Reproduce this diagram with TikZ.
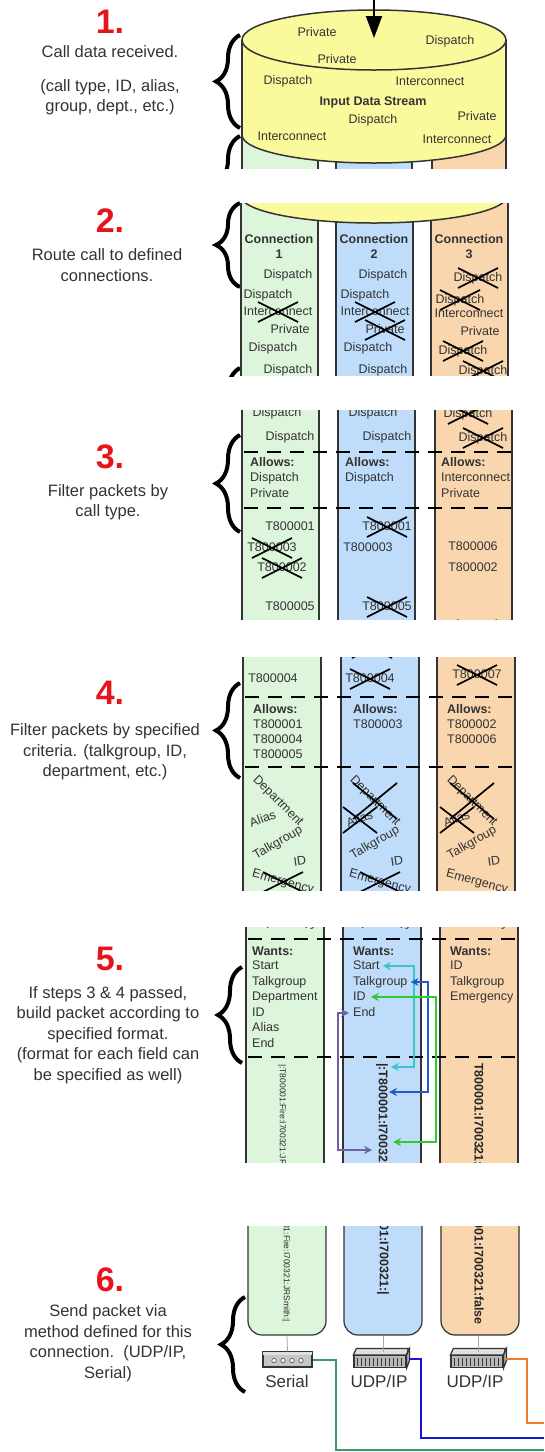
\documentclass[tikz,border=0pt]{standalone}
\usepackage{fontspec}
\setmainfont{Liberation Sans}
\usetikzlibrary{arrows.meta,decorations.pathreplacing}

\definecolor{cylyellow}{HTML}{FAFA9C}
\definecolor{colgreen}{HTML}{DDF5DA}
\definecolor{colblue}{HTML}{BFDDFA}
\definecolor{colorange}{HTML}{FAD6AE}
\definecolor{stepred}{HTML}{E8141C}
\definecolor{inkgray}{HTML}{333333}
\definecolor{pcyan}{HTML}{3CC4CC}
\definecolor{pblue}{HTML}{2458CC}
\definecolor{pgreen}{HTML}{2ECC2E}
\definecolor{ppurple}{HTML}{7060A8}
\definecolor{wgreen}{HTML}{3A9A6E}
\definecolor{wblue}{HTML}{1414D8}
\definecolor{worange}{HTML}{EE7A22}

\tikzset{
  txt/.style={font=\fontsize{12.5}{15}\selectfont, inner sep=0pt,
    text height=9pt, text depth=2.5pt, text=inkgray},
  bold/.style={txt, font=\fontsize{12.5}{15}\selectfont\bfseries},
  xline/.style={draw=black, line width=1.7pt},
  xed/.style n args={2}{append after command={
      ([xshift=-#1pt,yshift=-#2pt]\tikzlastnode.center) edge[xline] ([xshift=#1pt,yshift=#2pt]\tikzlastnode.center)
      ([xshift=-#1pt,yshift=#2pt]\tikzlastnode.center) edge[xline] ([xshift=#1pt,yshift=-#2pt]\tikzlastnode.center)}},
  xx/.style={xed={20}{10}},
  stepnum/.style={font=\fontsize{34}{34}\selectfont\bfseries, text=stepred, inner sep=0pt},
  stepdesc/.style={font=\fontsize{16.5}{20.5}\selectfont, text=inkgray, align=center, inner sep=0pt},
  brc/.style={decorate, decoration={brace, amplitude=24pt}, line width=4pt},
  colborder/.style={draw=inkgray, line width=1.2pt},
  dashsep/.style={line width=2.2pt, dash pattern=on 14pt off 9pt},
  pk/.style={font=\fontsize{12.5}{15}\selectfont\bfseries, inner sep=0pt, rotate=-90, text=black!85},
  pksmall/.style={font=\fontsize{8.5}{10}\selectfont, inner sep=0pt, rotate=-90, text=black!85},
  link/.style={line width=2.2pt, {Stealth[length=8pt,width=8pt]}-{Stealth[length=8pt,width=8pt]}},
  wire/.style={line width=2pt},
  devlbl/.style={font=\fontsize{17}{20}\selectfont, text=inkgray, inner sep=0pt},
  serialbox/.style={draw=inkgray, line width=1.2pt, fill=gray!45, minimum width=49pt, minimum height=15pt, inner sep=0pt},
  hubfront/.style={draw=inkgray, line width=1.2pt, fill=gray!55, minimum width=52pt, minimum height=12pt, inner sep=0pt},
}

\begin{document}
\begin{tikzpicture}[x=1pt,y=-1pt]
  \useasboundingbox (0,0) rectangle (544,1452);
  \fill[white] (0,0) rectangle (544,1452);

  % step texts
  \node[stepnum] (n1) at (110,22) {1.};
  \node[stepdesc] (d1) at (110,80) {Call data received.\\[13.5pt](call type, ID, alias,\\group, dept., etc.)};
  \node[stepnum] (n2) at (110,221) {2.};
  \node[stepdesc] (d2) at (107,265) {Route call to defined\\connections.};
  \node[stepnum] (n3) at (110,457) {3.};
  \node[stepdesc] (d3) at (108,502) {Filter packets by\\call type.};
  \node[stepnum] (n4) at (110,693) {4.};
  \node[stepdesc] (d4) at (105,752) {Filter packets by specified\\criteria. (talkgroup, ID,\\department, etc.)};
  \node[stepnum] (n5) at (110,959) {5.};
  \node[stepdesc] (d5) at (108,1035) {If steps 3 \& 4 passed,\\build packet according to\\specified format.\\(format for each field can\\be specified as well)};
  \node[stepnum] (n6) at (110,1280) {6.};
  \node[stepdesc] (d6) at (108,1343) {Send packet via\\method defined for this\\connection.\ \ (UDP/IP,\\Serial)};

  % braces
  \draw[brc] (240,128) -- (240,35);
  \begin{scope}
    \clip (200,133) rectangle (246,168);
    \draw[brc] (240,230) -- (240,136);
  \end{scope}
  \draw[brc] (240,287) -- (240,203);
  \begin{scope}
    \clip (200,366) rectangle (246,376);
    \draw[brc] (240,470) -- (240,368);
  \end{scope}
  \draw[brc] (240,532) -- (240,435);
  \draw[brc] (240,778) -- (240,683);
  \draw[brc] (242,1063) -- (242,967);
  \draw[brc] (245,1392) -- (245,1297);

  % panel 1: input data stream
  \begin{scope}
    \clip (236,0) rectangle (514,168);
    \foreach \cx/\cc/\cw in {242/colgreen/76,336/colblue/76,432/colorange/74}
      \draw[colborder, fill=\cc] (\cx,120) rectangle ++(\cw,60);
    \fill[cylyellow] (242,40) rectangle (506,135);
    \fill[cylyellow] (374,135) ellipse (132 and 28);
    \begin{scope}
      \clip (236,135) rectangle (514,170);
      \draw[line width=1.5pt, inkgray] (374,135) ellipse (132 and 28);
    \end{scope}
    \draw[line width=1.5pt, inkgray] (242,40) -- (242,135) (506,40) -- (506,135);
    \filldraw[fill=cylyellow, draw=inkgray, line width=1.5pt] (374,40) ellipse (132 and 30);
    \node[txt] (in1) at (317,33) {Private};
    \node[txt] (in2) at (450,41) {Dispatch};
    \node[txt] (in3) at (337,60) {Private};
    \node[txt] (in4) at (288,81) {Dispatch};
    \node[txt] (in5) at (430,82) {Interconnect};
    \node[bold] (in6) at (373,102) {Input Data Stream};
    \node[txt] (in7) at (373,120) {Dispatch};
    \node[txt] (in8) at (477,117) {Private};
    \node[txt] (in9) at (292,137) {Interconnect};
    \node[txt] (in10) at (457,140) {Interconnect};
  \end{scope}
  \coordinate (feed) at (374,0);
  \coordinate (feedin) at (374,38);
  \draw[line width=2pt, -{Triangle[length=22pt,width=16pt]}] (feed) -- (feedin);

  % panel 2: routing
  \begin{scope}
    \clip (236,203) rectangle (514,375);
    \foreach \cx/\cc in {241/colgreen,336/colblue,431/colorange}
      \draw[colborder, fill=\cc] (\cx,190) rectangle ++(77,200);
    \filldraw[fill=cylyellow, draw=inkgray, line width=1.5pt] (374,196) ellipse (133 and 27);
    \node[bold] (con1) at (279,240) {Connection};
    \node[bold] (con1n) at (279,255) {1};
    \node[bold] (con2) at (374,240) {Connection};
    \node[bold] (con2n) at (374,255) {2};
    \node[bold] (con3) at (469,240) {Connection};
    \node[bold] (con3n) at (469,255) {3};
    \node[txt] (ra1) at (288,275) {Dispatch};
    \node[txt] (ra2) at (268,295) {Dispatch};
    \node[txt, xx] (ra3) at (278,312) {Interconnect};
    \node[txt] (ra4) at (290,330) {Private};
    \node[txt] (ra5) at (273,348) {Dispatch};
    \node[txt] (ra6) at (288,370) {Dispatch};
    \node[txt] (rb1) at (383,275) {Dispatch};
    \node[txt] (rb2) at (365,295) {Dispatch};
    \node[txt, xx] (rb3) at (375,312) {Interconnect};
    \node[txt, xx] (rb4) at (385,330) {Private};
    \node[txt] (rb5) at (368,348) {Dispatch};
    \node[txt] (rb6) at (383,370) {Dispatch};
    \node[txt, xx] (rc1) at (478,278) {Dispatch};
    \node[txt, xx] (rc2) at (460,300) {Dispatch};
    \node[txt] (rc3) at (469,314) {Interconnect};
    \node[txt] (rc4) at (480,332) {Private};
    \node[txt, xx] (rc5) at (463,351) {Dispatch};
    \node[txt, xx] (rc6) at (483,371) {Dispatch};
  \end{scope}

  % panel 3: call type filter
  \begin{scope}
    \clip (236,410) rectangle (516,619);
    \foreach \cx/\cc in {242/colgreen,338/colblue,435/colorange}
      \draw[colborder, fill=\cc] (\cx,400) rectangle ++(77,230);
    \node[txt] (fa0) at (277,413) {Dispatch};
    \node[txt] (fa1) at (290,437) {Dispatch};
    \node[txt] (fb0) at (373,413) {Dispatch};
    \node[txt] (fb1) at (387,437) {Dispatch};
    \node[txt, xx] (fc0) at (468,414) {Dispatch};
    \node[txt, xx] (fc1) at (483,438) {Dispatch};
    \draw[dashsep] (244,452) -- (516,452);
    \draw[dashsep] (244,508) -- (516,508);
    \node[bold, anchor=west] (ala) at (250,463) {Allows:};
    \node[txt, anchor=west] (ala1) at (250,478) {Dispatch};
    \node[txt, anchor=west] (ala2) at (250,494) {Private};
    \node[bold, anchor=west] (alb) at (345,463) {Allows:};
    \node[txt, anchor=west] (alb1) at (345,478) {Dispatch};
    \node[bold, anchor=west] (alc) at (441,463) {Allows:};
    \node[txt, anchor=west] (alc1) at (441,478) {Interconnect};
    \node[txt, anchor=west] (alc2) at (441,494) {Private};
    \node[txt] (fa2) at (290,527) {T800001};
    \node[txt, xx] (fa3) at (272,548) {T800003};
    \node[txt, xx] (fa4) at (282,568) {T800002};
    \node[txt] (fa5) at (290,607) {T800005};
    \node[txt, xx] (fb2) at (387,527) {T800001};
    \node[txt] (fb3) at (368,548) {T800003};
    \node[txt, xx] (fb4) at (387,607) {T800005};
    \node[txt] (fc2) at (473,547) {T800006};
    \node[txt] (fc3) at (473,568) {T800002};
    \node[txt, xx] (fc4) at (477,630) {T800007};
  \end{scope}

  % panel 4: criteria filter
  \begin{scope}
    \clip (236,657) rectangle (520,890);
    \foreach \cx/\cc in {243/colgreen,341/colblue,437/colorange}
      \draw[colborder, fill=\cc] (\cx,640) rectangle ++(78,260);
    \node[txt] (ga0) at (275,648) {T800005};
    \node[txt, xx] (gb0) at (372,648) {T800005};
    \node[txt] (ga1) at (273,679) {T800004};
    \node[txt, xx] (gb1) at (370,679) {T800004};
    \node[txt, xx] (gc1) at (477,675) {T800007};
    \draw[dashsep] (245,697) -- (520,697);
    \draw[dashsep] (245,767) -- (520,767);
    \node[bold, anchor=west] (cra) at (253,710) {Allows:};
    \node[txt, anchor=west] (cra1) at (253,725) {T800001};
    \node[txt, anchor=west] (cra2) at (253,740) {T800004};
    \node[txt, anchor=west] (cra3) at (253,755) {T800005};
    \node[bold, anchor=west] (crb) at (353,710) {Allows:};
    \node[txt, anchor=west] (crb1) at (353,725) {T800003};
    \node[bold, anchor=west] (crc) at (447,710) {Allows:};
    \node[txt, anchor=west] (crc1) at (447,725) {T800002};
    \node[txt, anchor=west] (crc2) at (447,740) {T800006};
    \node[txt, rotate=-45] (dpa) at (278,801) {Department};
    \node[txt, rotate=20] (ala) at (263,820) {Alias};
    \node[txt, rotate=30] (tga) at (278,843) {Talkgroup};
    \node[txt, rotate=8] (ida) at (300,862) {ID};
    \node[txt, rotate=-15, xx] (ema) at (283,882) {Emergency};
    \node[txt, rotate=-45, xed={22}{18}] (dpb) at (375,801) {Department};
    \node[txt, rotate=20, xed={17}{13}] (alb) at (360,820) {Alias};
    \node[txt, rotate=30] (tgb) at (375,843) {Talkgroup};
    \node[txt, rotate=8] (idb) at (397,862) {ID};
    \node[txt, rotate=-15, xx] (emb) at (380,882) {Emergency};
    \node[txt, rotate=-45, xed={22}{18}] (dpc) at (472,801) {Department};
    \node[txt, rotate=20, xed={17}{13}] (alc) at (457,820) {Alias};
    \node[txt, rotate=30] (tgc) at (472,843) {Talkgroup};
    \node[txt, rotate=8] (idc) at (494,862) {ID};
    \node[txt, rotate=-15] (emc) at (477,882) {Emergency};
  \end{scope}

  % panel 5: packet format
  \begin{scope}
    \clip (236,927) rectangle (522,1162);
    \foreach \cx/\cc in {246/colgreen,343/colblue,440/colorange}
      \draw[colborder, fill=\cc] (\cx,915) rectangle ++(78,260);
    \node[txt, rotate=-15, xx] (eqa) at (287,917) {Emergency};
    \node[txt, rotate=-15, xx] (eqb) at (382,917) {Emergency};
    \node[txt, rotate=-15] (eqc) at (478,917) {Emergency};
    \draw[dashsep] (248,939) -- (522,939);
    \draw[dashsep] (248,1057) -- (522,1057);
    \node[bold, anchor=west] (wa) at (252,952) {Wants:};
    \node[txt, anchor=west] (wa1) at (252,966) {Start};
    \node[txt, anchor=west] (wa2) at (252,982) {Talkgroup};
    \node[txt, anchor=west] (wa3) at (252,997) {Department};
    \node[txt, anchor=west] (wa4) at (252,1013) {ID};
    \node[txt, anchor=west] (wa5) at (252,1028) {Alias};
    \node[txt, anchor=west] (wa6) at (252,1044) {End};
    \node[bold, anchor=west] (wb) at (353,952) {Wants:};
    \node[txt, anchor=west] (wbs) at (353,966) {Start};
    \node[txt, anchor=west] (wbt) at (353,982) {Talkgroup};
    \node[txt, anchor=west] (wbi) at (353,997) {ID};
    \node[txt, anchor=west] (wbe) at (353,1013) {End};
    \node[bold, anchor=west] (wc) at (450,952) {Wants:};
    \node[txt, anchor=west] (wc1) at (450,966) {ID};
    \node[txt, anchor=west] (wc2) at (450,982) {Talkgroup};
    \node[txt, anchor=west] (wc3) at (450,997) {Emergency};
    \node[pksmall, anchor=west] (pka) at (282,1064) {|:T800001:Fire:I700321:JRSmith:|};
    \node[pk, anchor=west] (pkb) at (382,1063) {|:T800001:I700321:|};
    \node[pk, anchor=west] (pkc) at (479,1063) {T800001:I700321:false};
    \coordinate (cyend) at (391,1067);
    \coordinate (blend) at (389,1092);
    \coordinate (grend) at (393,1142);
    \coordinate (puend) at (372,1150);
    \draw[link, pcyan] ([xshift=3pt]wbs.east) -| ([xshift=23pt]cyend) -- (cyend);
    \draw[link, pblue] ([xshift=3pt]wbt.east) -| ([xshift=39pt]blend) -- (blend);
    \draw[link, pgreen] ([xshift=5pt]wbi.east) -| ([xshift=43pt]grend) -- (grend);
    \draw[link, ppurple] ([xshift=-4pt]wbe.west) -| ([xshift=-34pt]puend) -- (puend);
  \end{scope}

  % panel 6: output devices
  \begin{scope}
    \clip (236,1226) rectangle (544,1452);
    \foreach \cx/\cc in {248/colgreen,344/colblue,441/colorange}
      \draw[colborder, fill=\cc, rounded corners=14pt] (\cx,1215) -- (\cx,1335) -- ++(78,0) -- ++(0,-120);
    \node[pksmall, anchor=east] (pka2) at (286,1322) {|:T800001:Fire:I700321:JRSmith:|};
    \node[pk, anchor=east] (pkb2) at (383,1295) {|:T800001:I700321:|};
    \node[pk, anchor=east] (pkc2) at (479,1325) {T800001:I700321:false};
  \end{scope}
  \coordinate (bota) at (287,1336);
  \coordinate (botb) at (383,1336);
  \coordinate (botc) at (478,1336);

  \node[serialbox] (ser) at (287.5,1359.5) {};
  \fill[gray!25] ([xshift=1pt,yshift=-1pt]ser.north west) rectangle ([xshift=-1pt,yshift=-4pt]ser.north east);
  \foreach \k in {-13.5,-4.5,4.5,13.5}
    \filldraw[fill=white, draw=gray!60!black, line width=0.6pt] ([xshift=\k pt,yshift=-1pt]ser.center) circle (2.2);
  \node[devlbl] (serlbl) at (287,1381) {Serial};

  \node[hubfront] (hubb) at (380,1361.5) {};
  \node[hubfront] (hubc) at (477,1361.5) {};
  \foreach \hb in {hubb,hubc} {
    \filldraw[fill=gray!25, draw=inkgray, line width=1.2pt] (\hb.north west) -- ++(3,-6.5) -- ++(52,0) -- (\hb.north east) -- cycle;
    \filldraw[fill=gray!70, draw=inkgray, line width=1.2pt] (\hb.north east) -- ++(3,-6.5) -- ++(0,12) -- (\hb.south east) -- cycle;
    \foreach \k in {1,...,12}
      \draw[gray!40!black, line width=0.5pt] ([xshift=\k*4pt,yshift=2pt]\hb.south west) -- ++(0,-8);
  }
  \node[devlbl] (udpb) at (379,1381) {UDP/IP};
  \node[devlbl] (udpc) at (475,1381) {UDP/IP};

  \draw[gray!70, line width=0.8pt] (bota) -- (ser.north);
  \draw[gray!70, line width=0.8pt] (botb) -- ([xshift=3pt,yshift=3pt]hubb.north);
  \draw[gray!70, line width=0.8pt] (botc) -- ([xshift=1pt,yshift=3pt]hubc.north);

  \coordinate (wg) at (544,1450);
  \coordinate (wb) at (544,1438);
  \coordinate (wo) at (544,1423);
  \draw[wire, wgreen] (ser.east) -| ([xshift=-208pt]wg) -- (wg);
  \draw[wire, wblue] ([xshift=2pt,yshift=3pt]hubb.east) -| ([xshift=-123pt]wb) -- (wb);
  \draw[wire, worange] ([xshift=2pt,yshift=3pt]hubc.east) -| ([xshift=-17pt]wo) -- (wo);
\end{tikzpicture}
\end{document}
